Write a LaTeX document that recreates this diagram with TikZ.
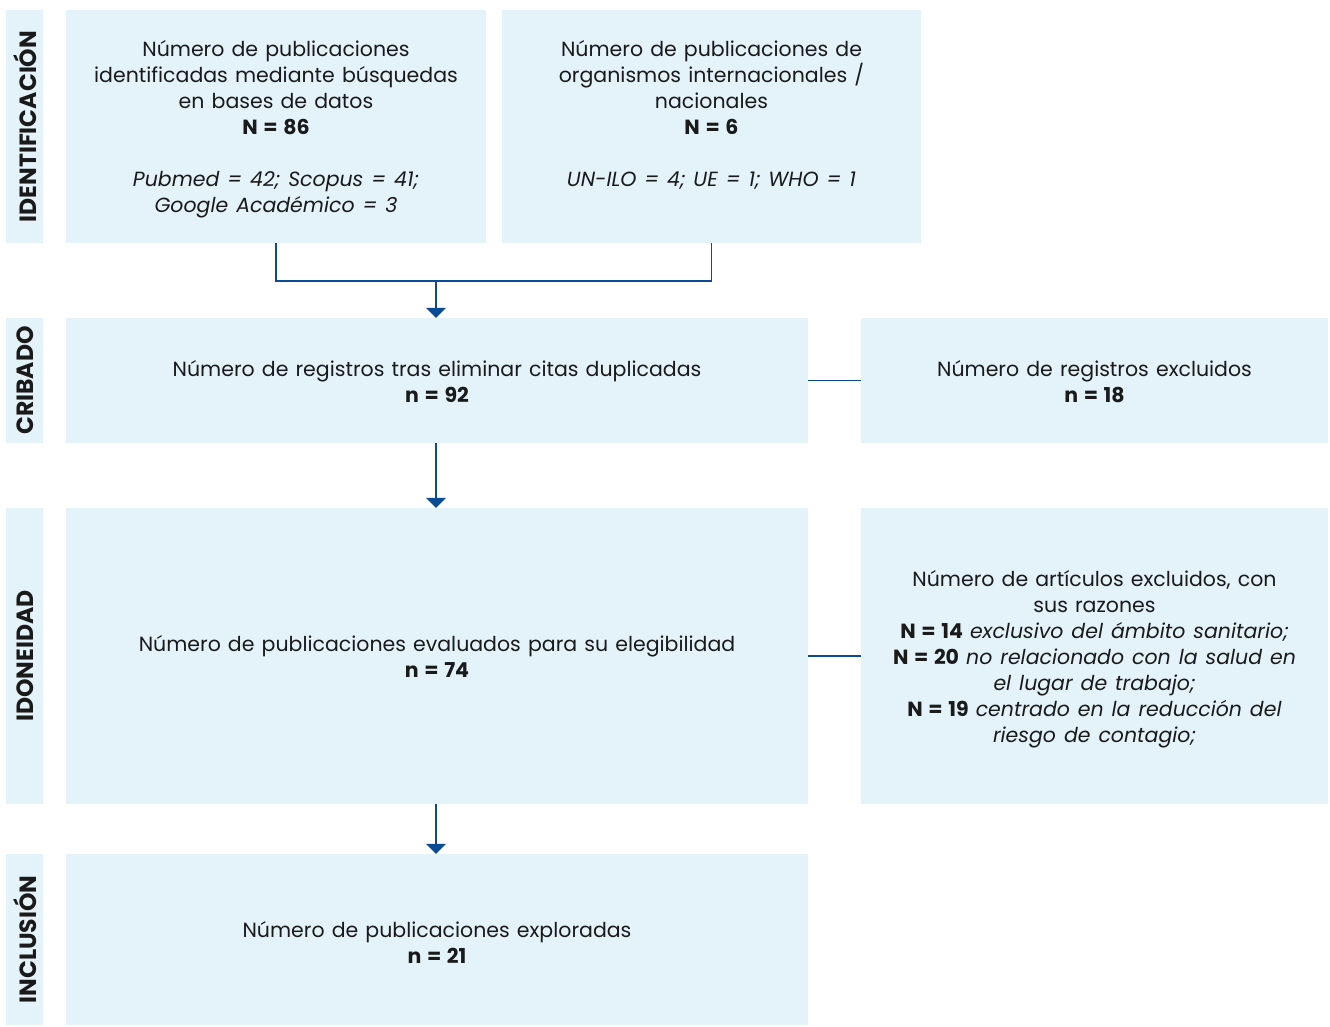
\documentclass[tikz,border=0pt]{standalone}
\usepackage{fontspec}
\setmainfont[WordSpace=1.3]{Poppins}
\usetikzlibrary{arrows.meta}
\definecolor{boxfill}{HTML}{E4F3FA}
\definecolor{linec}{HTML}{0B4A94}
\definecolor{txt}{HTML}{1A1A1A}
\begin{document}
\begin{tikzpicture}[x=1pt,y=-1pt,
  box/.style={fill=boxfill,inner sep=0pt,align=center,text=txt,font=\fontsize{20.5}{26}\selectfont},
  side/.style={fill=boxfill,inner sep=0pt,text=txt,font=\bfseries\fontsize{23.5}{24}\selectfont},
  conn/.style={draw=linec,line width=1.6pt},
  arr/.style={conn,-{Triangle[width=20pt,length=10pt]}}]
\useasboundingbox (0,0) rectangle (1330,1026);
% side labels
\node[side,minimum width=37pt,minimum height=233pt] (lid) at (24.5,126.5) {};
\node[rotate=90,side,fill=none] (tid) at ([xshift=1pt]lid.center) {IDENTIFICACIÓN};
\node[side,minimum width=37pt,minimum height=125pt] (lcr) at (24.5,380.5) {};
\node[rotate=90,side,fill=none] (tcr) at ([xshift=1pt]lcr.center) {CRIBADO};
\node[side,minimum width=37pt,minimum height=296pt] (lido) at (24.5,656) {};
\node[rotate=90,side,fill=none] (tido) at ([xshift=1pt]lido.center) {IDONEIDAD};
\node[side,minimum width=37pt,minimum height=171pt] (linc) at (24.5,939.5) {};
\node[rotate=90,side,fill=none] (tinc) at ([xshift=1pt]linc.center) {INCLUSIÓN};
% boxes
\node[box,minimum width=420pt,minimum height=233pt] (b1) at (276,126.5) {};
\node[box,anchor=center] (t1) at (276,129.5)
 {Número de publicaciones\\identificadas mediante búsquedas\\en bases de datos\\\textbf{N = 86}\\[26pt]\itshape Pubmed = 42; Scopus = 41;\\\itshape Google Académico = 3};
\node[box,minimum width=419pt,minimum height=233pt] (b2) at (711.5,126.5) {};
\node[box,fill=none] (t2) at (711.5,126.5)
 {Número de publicaciones de\\organismos internacionales /\\nacionales\\\textbf{N = 6}\\[26pt]\itshape UN-ILO = 4; UE = 1; WHO = 1\\\mbox{}};
\node[box,minimum width=742pt,minimum height=125pt] (crib) at (437,380.5) {};
\node[box] (tc) at (437,382)
 {Número de registros tras eliminar citas duplicadas\\\textbf{n = 92}};
\node[box,minimum width=467pt,minimum height=125pt] (excl) at (1094.5,380.5) {};
\node[box] (te) at (1094.5,382)
 {Número de registros excluidos\\\textbf{n = 18}};
\node[box,minimum width=742pt,minimum height=296pt] (ido) at (437,656) {};
\node[box] (ti) at (437,656.5)
 {Número de publicaciones evaluados para su elegibilidad\\\textbf{n = 74}};
\node[box,minimum width=467pt,minimum height=296pt] (excl2) at (1094.5,656) {};
\node[box] (te2) at (1094.5,659.5)
 {Número de artículos excluidos, con\\sus razones\\\textbf{N = 14} \textit{exclusivo del ámbito sanitario;}\\\textbf{N = 20} \textit{no relacionado con la salud en}\\\textit{el lugar de trabajo;}\\\textbf{N = 19} \textit{centrado en la reducción del}\\\textit{riesgo de contagio;}};
\node[box,minimum width=742pt,minimum height=171pt] (inc) at (437,939.5) {};
\node[box] (tn) at (437,942)
 {Número de publicaciones exploradas\\\textbf{n = 21}};
% connectors
\coordinate (j) at (436,281);
\draw[conn] (b1.south) |- (j) -| (b2.south);
\draw[arr] (j) -- (j |- crib.north);
\draw[conn] (crib.east) -- (excl.west);
\draw[conn] (ido.east) -- (excl2.west);
\draw[arr] (crib.south -| j) -- (ido.north -| j);
\draw[arr] (ido.south -| j) -- (inc.north -| j);
\end{tikzpicture}
\end{document}
